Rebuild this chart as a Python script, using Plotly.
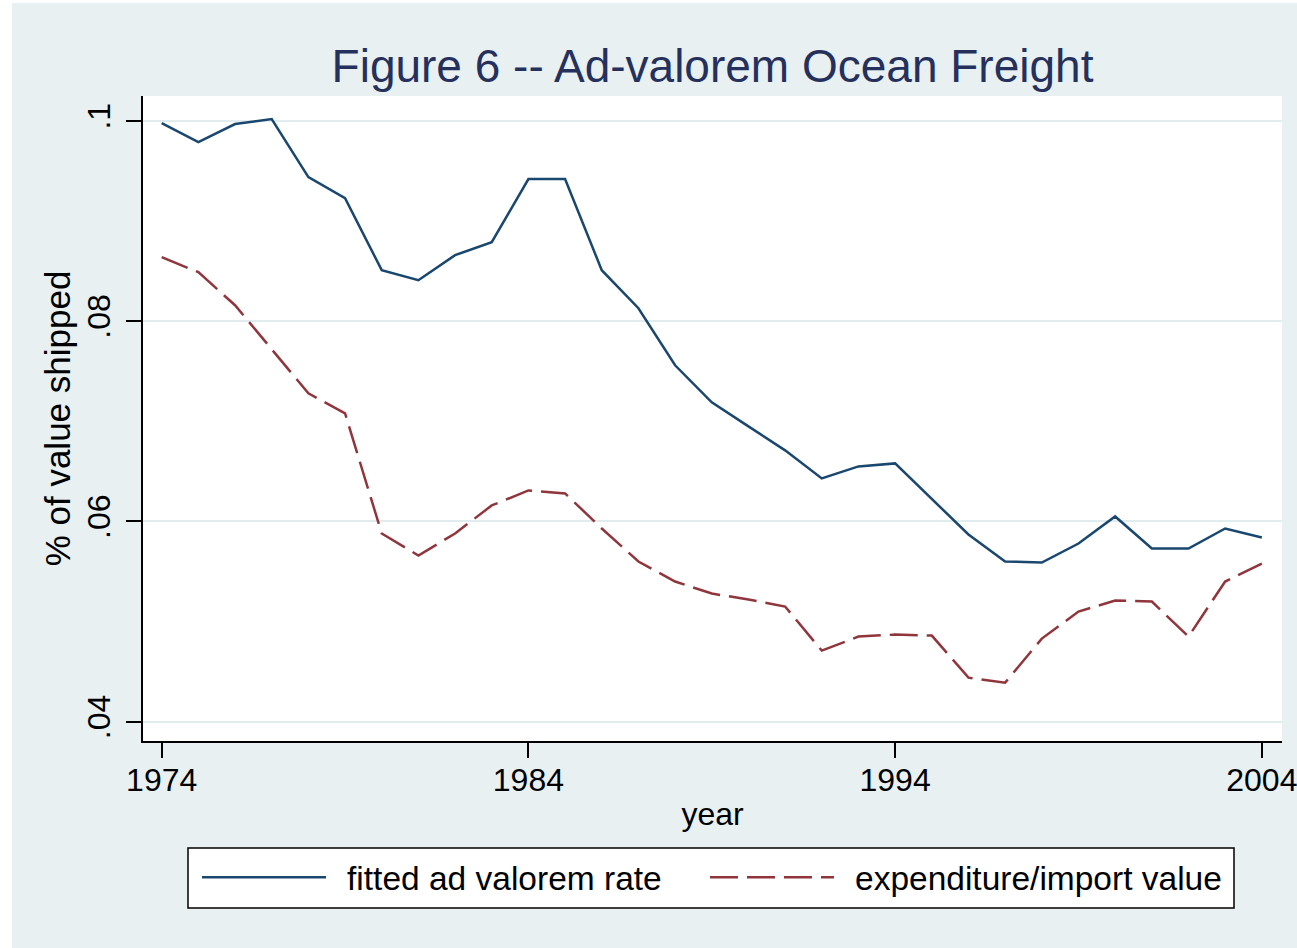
import plotly.graph_objects as go

years = list(range(1974, 2005))
fitted_rate = [0.0998, 0.0979, 0.0997, 0.1002, 0.0944, 0.0923, 0.0851, 0.0841,
               0.0866, 0.0879, 0.0942, 0.0942, 0.0851, 0.0813, 0.0756, 0.0719,
               0.0695, 0.0671, 0.0643, 0.0655, 0.0658, 0.0623, 0.0587, 0.0560,
               0.0559, 0.0578, 0.0605, 0.0573, 0.0573, 0.0593, 0.0584]
expenditure_ratio = [0.0864, 0.0849, 0.0816, 0.0772, 0.0728, 0.0708, 0.0588, 0.0566,
                     0.0588, 0.0616, 0.0631, 0.0628, 0.0593, 0.0560, 0.0540, 0.0528,
                     0.0522, 0.0515, 0.0471, 0.0485, 0.0487, 0.0486, 0.0444, 0.0439,
                     0.0483, 0.0510, 0.0521, 0.0520, 0.0485, 0.0540, 0.0558]
x_ticks = [1974, 1984, 1994, 2004]
y_ticks = [0.04, 0.06, 0.08, 0.1]
y_ticklabels = [".04", ".06", ".08", ".1"]
series_names = ["fitted ad valorem rate", "expenditure/import value"]

BG = "#E8F0F2"
FONT = "Liberation Sans, Arial, sans-serif"
NB = "\u00a0\u2009"

fig = go.Figure()
fig.add_trace(go.Scatter(x=years, y=fitted_rate, mode="lines",
                         name=NB + series_names[0], legendwidth=369,
                         line=dict(color="#1A476F", width=2.5)))
fig.add_trace(go.Scatter(x=years, y=expenditure_ratio, mode="lines",
                         name=NB + series_names[1], legendwidth=400,
                         line=dict(color="#90353B", width=2.5, dash="28px,9px")))

W, H = 1297, 948
L, R, T, B = 143, 15, 96, 207
pw, ph = W - L - R, H - T - B

def px_x(p):
    return (p - L) / pw

def px_y(p):
    return (H - B - p) / ph

# white strips at image edges (left and top)
fig.add_shape(type="rect", xref="paper", yref="paper",
              x0=px_x(0), x1=px_x(12), y0=px_y(H), y1=px_y(0),
              fillcolor="white", line_width=0, layer="below")
fig.add_shape(type="rect", xref="paper", yref="paper",
              x0=px_x(0), x1=px_x(W), y0=px_y(3), y1=px_y(0),
              fillcolor="white", line_width=0, layer="below")
# legend frame
fig.add_shape(type="rect", xref="paper", yref="paper",
              x0=px_x(188), x1=px_x(1234), y0=px_y(908), y1=px_y(848),
              fillcolor="white", line=dict(color="black", width=1.5), layer="below")

fig.update_layout(
    width=W, height=H,
    margin=dict(l=L, r=R, t=T, b=B, autoexpand=False),
    paper_bgcolor=BG, plot_bgcolor="white",
    font=dict(family=FONT, size=32, color="black"),
    title=dict(text="Figure 6 -- Ad-valorem Ocean Freight",
               font=dict(family=FONT, size=46, color="#25305C"),
               x=0.5, xref="paper", xanchor="center",
               y=1 - 82 / H, yref="container", yanchor="bottom"),
    showlegend=True,
    legend=dict(orientation="h", x=px_x(197), y=px_y(849),
                xanchor="left", yanchor="top",
                bgcolor="rgba(0,0,0,0)", borderwidth=0,
                font=dict(family=FONT, size=33.5, color="black"),
                itemwidth=124, tracegroupgap=0),
)

fig.update_xaxes(range=[1973.49, 2004.55], tickvals=x_ticks,
                 ticktext=[str(v) for v in x_ticks],
                 ticks="outside", ticklen=15, tickwidth=2, tickcolor="black",
                 showline=True, linecolor="black", linewidth=2,
                 showgrid=False, zeroline=False, automargin=False,
                 tickfont=dict(size=32), ticklabelstandoff=-5,
                 ticklabeloverflow="allow",
                 title=dict(text="year", font=dict(size=32), standoff=5))
fig.update_yaxes(range=[0.03807, 0.1025], tickvals=y_ticks, ticktext=y_ticklabels,
                 tickangle=-90,
                 ticks="outside", ticklen=15, tickwidth=2, tickcolor="black",
                 showline=True, linecolor="black", linewidth=2,
                 showgrid=True, gridcolor="#E1ECEF", gridwidth=1.5,
                 zeroline=False, automargin=False,
                 tickfont=dict(size=32), ticklabelstandoff=3,
                 title=dict(text="% of value shipped", font=dict(size=35), standoff=0))

fig.write_html("out.html",
               config={"displayModeBar": False},
               post_script="document.body.style.margin='0px';"
                           "document.body.style.overflow='hidden';")
